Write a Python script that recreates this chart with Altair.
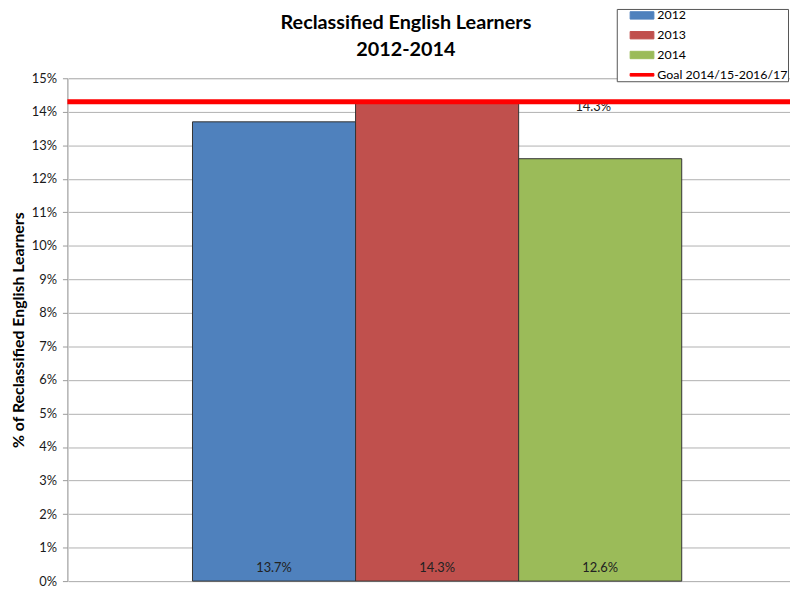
import altair as alt
import pandas as pd

years = ["2012", "2013", "2014"]
values = [0.137, 0.143, 0.126]
value_labels = ["13.7%", "14.3%", "12.6%"]
goal_name = "Goal 2014/15-2016/17"
goal_value = 0.143
goal_text = "14.3%"
goal_label_year = "2014"
colors = ["#4F81BD", "#C0504D", "#9BBB59", "#FF0000"]
y_ticks = [i / 100 for i in range(0, 16)]

bars_df = pd.DataFrame({"year": years, "value": values, "label": value_labels})
goal_df = pd.DataFrame({"series": [goal_name], "value": [goal_value],
                        "label": [goal_text], "year": [goal_label_year]})

FONT = "Lato"

color_scale = alt.Scale(domain=years + [goal_name], range=colors)
xscale = alt.Scale(range=[1, 746], paddingInner=0, paddingOuter=0.761)
yscale = alt.Scale(domain=[0, 0.15], nice=False, zero=True)

legend = alt.Legend(
    title=None, orient="none", legendX=555, legendY=-70,
    padding=0, rowPadding=7, symbolOffset=19, labelOffset=9,
    symbolSize=144, labelFontSize=12.5, labelFont=FONT, labelColor="#000000",
    fillColor="#ffffff", strokeColor="#555555",
    symbolType=alt.ExprRef(expr="datum.value == '" + goal_name + "' ? 'M-2,-0.22H2V0.22H-2Z' : 'M-2,-0.62H2V0.62H-2Z'"),
    symbolStrokeColor=alt.ExprRef(expr="datum.value == '" + goal_name + "' ? '#FF0000' : '#333333'"),
    symbolStrokeWidth=1,
)

yaxis = alt.Axis(
    format=".0%", values=y_ticks, title="% of Reclassified English Learners",
    titleFont=FONT, titleFontSize=16, titleFontWeight="bold", titleColor="#000000",
    labelFont=FONT, labelFontSize=13, labelColor="#1a1a1a",
    gridColor="#b0b0b0", domainColor="#9a9a9a", tickColor="#9a9a9a", tickSize=5,
    labelPadding=6, titlePadding=5, labelOverlap=False,
)

bars = alt.Chart(bars_df).mark_bar(stroke="#333333", strokeWidth=1).encode(
    x=alt.X("year:N", scale=xscale, axis=None),
    y=alt.Y("value:Q", scale=yscale, axis=yaxis),
    color=alt.Color("year:N", scale=color_scale, legend=legend),
)

bar_text = alt.Chart(bars_df).mark_text(
    baseline="middle", dy=-13, fontSize=13, font=FONT, color="#222222"
).encode(
    x=alt.X("year:N", scale=xscale, axis=None),
    y=alt.YDatum(0, type="quantitative", scale=yscale, axis=yaxis),
    text="label:N",
)

goal_label = alt.Chart(goal_df).mark_text(
    baseline="middle", dy=5, dx=-7, fontSize=13, font=FONT, color="#222222"
).encode(
    x=alt.X("year:N", scale=xscale, axis=None),
    y=alt.Y("value:Q", scale=yscale, axis=yaxis),
    text="label:N",
)

goal_rule = alt.Chart(goal_df).mark_rule(strokeWidth=5).encode(
    y=alt.Y("value:Q", scale=yscale, axis=yaxis),
    color=alt.Color("series:N", scale=color_scale, legend=legend),
)

chart = alt.layer(bars, bar_text, goal_label, goal_rule).properties(
    width=730, height=508,
    autosize=alt.AutoSizeParams(type="none"),
    padding={"left": 60, "top": 68, "right": 0, "bottom": 6},
    title=alt.Title(
        ["Reclassified English Learners", "2012-2014"],
        font=FONT, fontSize=20, fontWeight="bold", color="#000000",
        lineHeight=27, dx=-23, dy=52, offset=0, frame="group",
    ),
).configure_view(stroke=None).configure(background="#ffffff")

chart.save("out.html", embed_options={"renderer": "svg", "actions": False})
